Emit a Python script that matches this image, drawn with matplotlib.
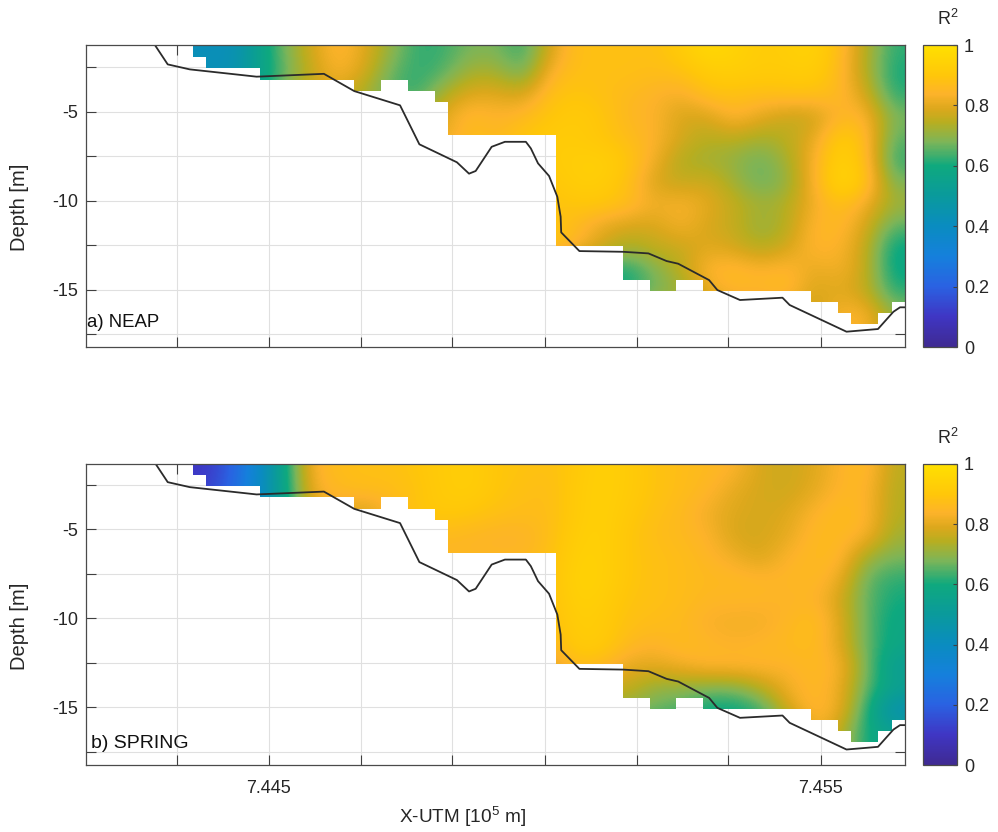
import numpy as np
import matplotlib
matplotlib.use("Agg")
import matplotlib.pyplot as plt
from matplotlib.colors import LinearSegmentedColormap
from matplotlib.patches import Polygon

plt.rcParams["font.family"] = ["Liberation Sans", "DejaVu Sans"]
plt.rcParams["mathtext.fontset"] = "custom"
plt.rcParams["mathtext.rm"] = "Liberation Sans"
plt.rcParams["mathtext.default"] = "rm"

# R2, rows from top to bottom, columns from left to right
neap = [
    [.42,.42,.55,.68,.78,.86,.80,.70,.62,.63,.68,.68,.62,.78,.88,.88,.88,.88,.92,.97,.95,.92,.93,.95,.87,.74,.62],
    [.43,.43,.55,.66,.76,.84,.78,.66,.62,.65,.73,.73,.66,.84,.88,.88,.88,.87,.88,.92,.93,.92,.92,.93,.86,.74,.60],
    [.45,.45,.55,.72,.78,.78,.72,.65,.62,.74,.80,.80,.78,.88,.90,.88,.86,.84,.82,.88,.88,.87,.88,.88,.86,.78,.62],
    [.75,.75,.75,.75,.75,.75,.75,.75,.75,.80,.87,.84,.86,.90,.92,.90,.85,.84,.78,.78,.85,.80,.76,.76,.85,.85,.68],
    [.80,.80,.80,.80,.80,.80,.80,.80,.80,.80,.87,.85,.90,.92,.92,.90,.87,.84,.78,.74,.75,.72,.75,.80,.93,.87,.65],
    [.90,.90,.90,.90,.90,.90,.90,.90,.90,.90,.90,.90,.90,.92,.93,.94,.90,.82,.73,.72,.70,.66,.72,.83,.95,.88,.62],
    [.90,.90,.90,.90,.90,.90,.90,.90,.90,.90,.90,.90,.90,.90,.93,.93,.88,.78,.76,.78,.72,.66,.70,.83,.97,.90,.68],
    [.90,.90,.90,.90,.90,.90,.90,.90,.90,.90,.90,.90,.90,.88,.90,.90,.87,.82,.84,.80,.76,.72,.74,.82,.88,.82,.72],
    [.90,.90,.90,.90,.90,.90,.90,.90,.90,.90,.90,.90,.90,.90,.86,.80,.78,.78,.83,.78,.76,.70,.74,.85,.86,.78,.65],
    [.90,.90,.90,.90,.90,.90,.90,.90,.90,.90,.90,.90,.90,.90,.85,.78,.72,.76,.76,.80,.78,.74,.78,.85,.84,.76,.58],
    [.60,.60,.60,.60,.60,.60,.60,.60,.60,.60,.60,.60,.60,.60,.60,.60,.60,.68,.75,.85,.87,.84,.86,.80,.83,.76,.58],
    [.60,.60,.60,.60,.60,.60,.60,.60,.60,.60,.60,.60,.60,.60,.60,.60,.60,.68,.70,.80,.85,.85,.87,.78,.80,.76,.62],
    [.76,.76,.76,.76,.76,.76,.76,.76,.76,.76,.76,.76,.76,.76,.76,.76,.76,.76,.76,.76,.76,.76,.76,.76,.84,.84,.70],
]
spring = [
    [.10,.20,.37,.58,.84,.87,.88,.88,.90,.92,.93,.90,.89,.88,.91,.94,.92,.89,.87,.86,.84,.78,.77,.79,.84,.87,.75],
    [.12,.22,.38,.57,.82,.86,.87,.87,.89,.92,.93,.90,.88,.87,.92,.94,.92,.89,.87,.85,.80,.78,.77,.80,.85,.85,.74],
    [.15,.25,.38,.56,.80,.80,.76,.84,.90,.91,.90,.88,.87,.87,.92,.94,.91,.88,.86,.82,.79,.78,.79,.84,.87,.85,.74],
    [.85,.85,.85,.85,.85,.85,.85,.85,.85,.86,.85,.84,.84,.87,.93,.94,.90,.87,.86,.84,.78,.78,.80,.86,.86,.84,.72],
    [.85,.85,.85,.85,.85,.85,.85,.85,.85,.85,.85,.85,.85,.88,.94,.94,.90,.88,.87,.85,.82,.78,.84,.86,.86,.72,.68],
    [.88,.88,.88,.88,.88,.88,.88,.88,.88,.88,.88,.88,.88,.88,.95,.94,.90,.88,.87,.86,.86,.85,.85,.86,.82,.66,.62],
    [.88,.88,.88,.88,.88,.88,.88,.88,.88,.88,.88,.88,.88,.88,.94,.93,.89,.88,.87,.85,.85,.85,.84,.85,.78,.66,.60],
    [.87,.87,.87,.87,.87,.87,.87,.87,.87,.87,.87,.87,.87,.87,.93,.92,.88,.87,.86,.83,.82,.82,.85,.88,.80,.66,.58],
    [.85,.85,.85,.85,.85,.85,.85,.85,.85,.85,.85,.85,.85,.85,.92,.92,.86,.84,.87,.85,.84,.85,.86,.87,.80,.66,.58],
    [.78,.78,.78,.78,.78,.78,.78,.78,.78,.78,.78,.78,.78,.78,.88,.86,.80,.80,.82,.85,.85,.85,.84,.86,.84,.68,.52],
    [.76,.76,.76,.76,.76,.76,.76,.76,.76,.76,.76,.76,.76,.76,.76,.76,.76,.70,.70,.68,.68,.74,.82,.86,.82,.66,.55],
    [.70,.70,.70,.70,.70,.70,.70,.70,.70,.70,.70,.70,.70,.70,.70,.70,.70,.66,.64,.58,.58,.62,.78,.86,.82,.62,.42],
    [.60,.60,.60,.60,.60,.60,.60,.60,.60,.60,.60,.60,.60,.60,.60,.60,.60,.60,.60,.60,.60,.60,.60,.85,.75,.60,.55],
]

# how many grid rows have data in each of the 53 columns
rows_in_col = [1, 2, 2, 2, 2, 3, 3, 3, 3, 3, 3, 3, 4, 4, 3, 3, 4, 4, 5,
               8, 8, 8, 8, 8, 8, 8, 8,
               18, 18, 18, 18, 18, 21, 21, 22, 22, 21, 21,
               22, 22, 22, 22, 22, 22, 22, 22, 23, 23, 24, 25, 25, 24, 23]

# bottom line
bed_x = [7.44295, 7.44317, 7.44357, 7.44478, 7.44600, 7.44655, 7.44738, 7.44773, 7.44841,
         7.44863, 7.44875, 7.44904, 7.44928, 7.44966, 7.44975, 7.44988, 7.45008, 7.45023,
         7.45029, 7.45030, 7.45063, 7.45142, 7.45188, 7.45221, 7.45242, 7.45298, 7.45313,
         7.45354, 7.45431, 7.45444, 7.45547, 7.45604, 7.45632, 7.45644, 7.45653]
bed_y = [-1.32, -2.35, -2.63, -3.04, -2.88, -3.85, -4.65, -6.84, -7.85,
         -8.49, -8.34, -6.98, -6.70, -6.70, -7.07, -7.91, -8.62, -9.79,
         -10.91, -11.79, -12.84, -12.88, -12.97, -13.40, -13.55, -14.47, -15.03,
         -15.59, -15.46, -15.87, -17.37, -17.22, -16.25, -16.0, -16.0]

x_ticks = [7.44333, 7.445, 7.44667, 7.44833, 7.45, 7.45167, 7.45333, 7.455]
x_tick_labels = ["", "7.445", "", "", "", "", "", "7.455"]
y_ticks = [-2.5, -5, -7.5, -10, -12.5, -15, -17.5]
y_tick_labels = ["", "-5", "", "-10", "", "-15", ""]
cbar_ticks = [0, 0.2, 0.4, 0.6, 0.8, 1]
cbar_labels = ["0", "0.2", "0.4", "0.6", "0.8", "1"]

cmap = LinearSegmentedColormap.from_list("r2", [
    (0.0, "#3f2a92"), (0.1, "#3f36c4"), (0.2, "#2a62e2"), (0.3, "#1580dc"),
    (0.4, "#0a8cc0"), (0.5, "#0a9a9c"), (0.6, "#0fa97e"), (0.68, "#7db558"),
    (0.745, "#b8ae20"), (0.79, "#dca81c"), (0.84, "#fdb32a"), (0.9, "#ffc60a"),
    (1.0, "#ffe000"),
])

W, H = 998, 832
fig = plt.figure(figsize=(W / 100, H / 100), dpi=100)

x_edges = np.linspace(7.44362, 7.45653, 54)
col_bottom = [-1.955 - 0.625 * (n - 1) for n in rows_in_col]
text_col = "#262626"


def panel(values, top_px, bot_px, ylim, name, name_xy, show_x):
    ax = fig.add_axes([85.5 / W, 1 - bot_px / H, 819.5 / W, (bot_px - top_px) / H])
    # cells are 2 columns wide and about 2 rows high
    im = ax.imshow(values, extent=[7.44362, 7.45653, -16.98, -1.0], aspect="auto",
                   cmap=cmap, vmin=0, vmax=1, interpolation="bicubic", zorder=1)
    # stepped outline of the section
    verts = [(x_edges[0], 0.0)]
    for i, b in enumerate(col_bottom):
        verts += [(x_edges[i], b), (x_edges[i + 1], b)]
    verts.append((x_edges[-1], 0.0))
    clip = Polygon(verts, closed=True, transform=ax.transData, fc="none", ec="none")
    ax.add_patch(clip)
    im.set_clip_path(clip)

    ax.plot(bed_x, bed_y, color="#2b2b2b", lw=1.3, zorder=3)
    ax.set_xlim(7.44168, 7.45653)
    ax.set_ylim(ylim)
    ax.set_xticks(x_ticks)
    ax.set_xticklabels(x_tick_labels if show_x else [""] * len(x_ticks))
    ax.set_yticks(y_ticks)
    ax.set_yticklabels(y_tick_labels)
    ax.set_axisbelow(True)
    ax.grid(True, color="#e0e0e0", lw=0.8)
    ax.tick_params(direction="in", length=7, width=0.8, color="#404040", top=True, right=True,
                   labelsize=13, labelcolor=text_col, pad=5)
    ax.tick_params(axis="x", pad=11)
    for s in ax.spines.values():
        s.set_color("#4a4a4a")
        s.set_linewidth(0.9)
        s.set_zorder(4)
    fig.text(20 / W, 1 - (top_px + 162) / H, "Depth [m]", rotation=90, fontsize=14.5,
             color=text_col, ha="center", va="center")
    fig.text(name_xy[0] / W, 1 - name_xy[1] / H, name, fontsize=name_xy[2], color="#111111", ha="left", va="center")

    cax = fig.add_axes([923 / W, 1 - bot_px / H, 34 / W, (bot_px - top_px) / H])
    cb = fig.colorbar(im, cax=cax, ticks=cbar_ticks)
    cb.ax.set_yticklabels(cbar_labels)
    cb.ax.tick_params(direction="in", length=3, width=0.8, color="#404040", labelsize=13,
                      labelcolor=text_col, pad=5)
    cb.outline.set_edgecolor("#4a4a4a")
    cb.outline.set_linewidth(0.9)
    fig.text(948 / W, 1 - (top_px - 26) / H, "R$^2$", fontsize=13, color=text_col, ha="center", va="center")
    return ax


panel(neap, 45, 347, (-18.23, -1.26), "a) NEAP", (87, 322, 13.4), False)
panel(spring, 464, 765, (-18.24, -1.33), "b) SPRING", (91, 743, 14), True)

fig.text(462 / W, 1 - 817 / H, "X-UTM [10$^5$ m]", fontsize=13.7, color=text_col, ha="center", va="center")

fig.savefig("out.png", dpi=100)
